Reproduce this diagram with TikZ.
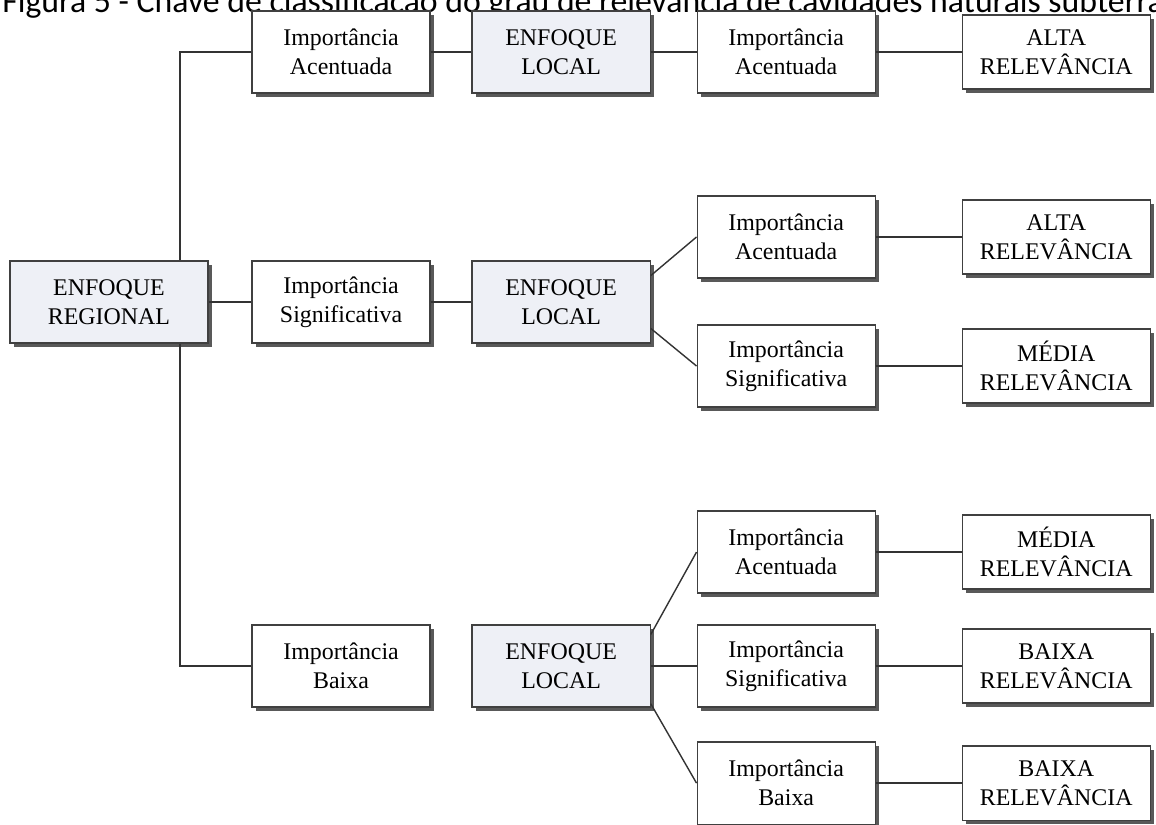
\documentclass[tikz,border=0pt]{standalone}
\usepackage{fontspec}
\setmainfont{Liberation Serif}
\newfontfamily\titlefont{Carlito}
\usepackage{tikz}
\usetikzlibrary{positioning, shadows}
\definecolor{enffill}{RGB}{238,240,246}

\begin{document}
\begin{tikzpicture}[x=0.025cm, y=-0.025cm, node distance=5.5cm, on grid]
\useasboundingbox (0,0) rectangle (1156,824);

	\tikzset{box/.style={draw=black!75, line width=0.9pt, fill=white, align=center,
		font=\fontsize{17}{20.5}\selectfont, minimum width=4.45cm, minimum height=2.05cm, inner sep=2pt,
		drop shadow={shadow xshift=0.1cm, shadow yshift=-0.1cm, fill=black!65, opacity=1}}}
	\tikzset{enf/.style={box, fill=enffill}}
	\tikzset{rel/.style={box, minimum width=4.7cm, minimum height=1.85cm}}
	\tikzset{link/.style={draw=black!80, line width=1pt}}

\node[anchor=base west, inner sep=0pt, font=\titlefont\fontsize{24}{27}\selectfont] (tit) at (2,12)
	{Figura 5 - Chave de classificação do grau de relevância de cavidades naturais subterrâneas};

\node[enf, minimum width=4.95cm] (reg) at (109,302) {ENFOQUE\\REGIONAL};
\node[box] (imp_s) [right=5.8cm of reg] {Importância\\Significativa};
\node[box] (imp_a) [above=6.25cm of imp_s] {Importância\\Acentuada};
\node[box] (imp_b) [below=9.1cm of imp_s] {Importância\\Baixa};

\node[enf] (loc_a) [right=of imp_a] {ENFOQUE\\LOCAL};
\node[enf] (loc_s) [right=of imp_s] {ENFOQUE\\LOCAL};
\node[enf] (loc_b) [right=of imp_b] {ENFOQUE\\LOCAL};

\node[box] (imp_aa) [right=5.625cm of loc_a] {Importância\\Acentuada};
\node[box] (imp_sa) [above right=1.625cm and 5.625cm of loc_s] {Importância\\Acentuada};
\node[box] (imp_ss) [below right=1.6cm and 5.625cm of loc_s] {Importância\\Significativa};
\node[box] (imp_ba) [above right=2.85cm and 5.625cm of loc_b] {Importância\\Acentuada};
\node[box] (imp_bs) [right=5.625cm of loc_b] {Importância\\Significativa};
\node[box] (imp_bb) [below right=2.925cm and 5.625cm of loc_b] {Importância\\Baixa};

\node[rel] (rel_aa) [right=6.75cm of imp_aa] {ALTA\\RELEVÂNCIA};
\node[rel] (rel_sa) [right=6.75cm of imp_sa] {ALTA\\RELEVÂNCIA};
\node[rel] (rel_ss) [right=6.75cm of imp_ss] {MÉDIA\\RELEVÂNCIA};
\node[rel] (rel_ba) [right=6.75cm of imp_ba] {MÉDIA\\RELEVÂNCIA};
\node[rel] (rel_bs) [right=6.75cm of imp_bs] {BAIXA\\RELEVÂNCIA};
\node[rel] (rel_bb) [right=6.75cm of imp_bb] {BAIXA\\RELEVÂNCIA};

\coordinate (spine) at (180,302);
\draw[link] (imp_a.west) -| (reg.north -| spine);
\draw[link] (imp_b.west) -| (reg.south -| spine);

\path[link]
	(reg) edge (imp_s)
	(imp_a) edge (loc_a)
	(imp_s) edge (loc_s)
	(loc_a) edge (imp_aa)
	(loc_b) edge (imp_bs)
	(imp_aa) edge (rel_aa)
	(imp_sa) edge (rel_sa)
	(imp_ss) edge (rel_ss)
	(imp_ba) edge (rel_ba)
	(imp_bs) edge (rel_bs)
	(imp_bb) edge (rel_bb);

% ramos inclinados
\draw[link] ([yshift=-0.38cm]loc_s.north east) -- (imp_sa.west);
\draw[link] ([yshift=0.38cm]loc_s.south east) -- (imp_ss.west);
\draw[link] ([yshift=-0.25cm]loc_b.north east) -- (imp_ba.west);
\draw[link] ([yshift=0.1cm]loc_b.south east) -- (imp_bb.west);

\end{tikzpicture}
\end{document}
